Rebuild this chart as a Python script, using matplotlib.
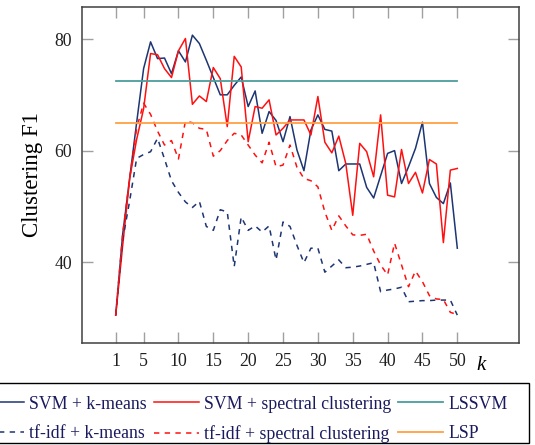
import numpy as np
import matplotlib.pyplot as plt
from matplotlib.patches import Rectangle

# k = 1..50
k = np.arange(1, 51)

svm_kmeans = [30.5, 45.0, 55.0, 65.0, 74.7, 79.5, 76.5, 76.6, 73.8, 77.9,
              75.9, 80.7, 79.2, 76.2, 73.1, 70.0, 70.0, 71.7, 73.2, 67.9,
              70.7, 63.1, 67.0, 65.4, 61.6, 66.1, 60.1, 56.4, 63.7, 66.4,
              63.8, 63.5, 56.4, 57.6, 57.6, 57.6, 53.4, 51.5, 55.5, 59.5,
              60.0, 54.1, 57.1, 60.4, 65.1, 54.1, 51.6, 50.5, 54.2, 42.5]

svm_spectral = [30.5, 43.0, 55.0, 62.0, 67.5, 77.4, 77.2, 74.7, 73.1, 77.9,
                80.1, 68.3, 69.8, 68.8, 74.9, 72.9, 64.3, 76.9, 75.0, 61.6,
                67.9, 67.6, 69.1, 62.8, 64.0, 65.5, 65.5, 65.5, 62.8, 69.7,
                61.5, 59.6, 62.6, 57.7, 48.4, 61.3, 59.8, 55.3, 66.4, 52.0,
                51.7, 60.2, 54.1, 56.1, 52.4, 58.4, 57.6, 43.5, 56.5, 56.8]

tfidf_kmeans = [30.5, 44.0, 51.0, 58.6, 59.3, 59.8, 62.2, 58.5, 54.6, 52.5,
                50.8, 49.8, 50.9, 46.4, 45.7, 49.4, 49.0, 39.2, 48.1, 45.7,
                46.5, 45.4, 46.5, 40.4, 47.2, 46.4, 43.0, 39.9, 42.5, 42.5,
                38.2, 39.3, 40.4, 39.0, 39.1, 39.3, 39.6, 39.9, 34.7, 35.0,
                35.2, 35.5, 32.9, 33.0, 33.1, 33.1, 33.2, 33.2, 33.2, 30.5]

tfidf_spectral = [30.5, 45.0, 55.0, 64.0, 68.5, 66.5, 63.5, 61.0, 61.8, 58.5,
                  65.3, 65.0, 64.0, 63.8, 59.0, 60.0, 61.8, 63.1, 62.8, 61.0,
                  59.2, 57.8, 61.5, 57.1, 57.4, 61.0, 57.0, 55.0, 54.6, 53.5,
                  49.0, 45.7, 48.3, 46.5, 44.9, 44.8, 45.0, 42.0, 39.5, 37.7,
                  43.4, 39.5, 35.6, 38.4, 36.5, 34.0, 33.4, 33.3, 31.0, 30.6]

lssvm = 72.4
lsp = 65.0

navy = '#1d3573'
red = '#ff1010'
teal = '#4b9e9c'
orange = '#ffa045'
text_col = '#1a1a5e'

plt.rcParams['font.family'] = ['Liberation Serif', 'DejaVu Serif']
plt.rcParams['font.size'] = 12.8

fig = plt.figure(figsize=(5.35, 4.45), dpi=100)
ax = fig.add_axes([0.1527, 0.2292, 0.8174, 0.7557])

h1, = ax.plot(k, svm_kmeans, color=navy, lw=1.1)
h2, = ax.plot(k, svm_spectral, color=red, lw=1.1)
h3, = ax.plot([k[0], k[-1]], [lssvm, lssvm], color=teal, lw=1.3)
h4, = ax.plot(k, tfidf_kmeans, color=navy, lw=1.1, dashes=(3.5, 3.5))
h5, = ax.plot(k, tfidf_spectral, color=red, lw=1.1, dashes=(3.5, 3.5))
h6, = ax.plot([k[0], k[-1]], [lsp, lsp], color=orange, lw=1.3)

ax.set_xlim(-3.88, 58.85)
ax.set_ylim(25.5, 85.8)
ax.set_xticks([1, 5, 10, 15, 20, 25, 30, 35, 40, 45, 50])
ax.set_yticks([40, 60, 80])
ax.tick_params(direction='in', length=8, width=1, color='#a0a0a0',
               top=True, right=True, pad=7, labelcolor='#202020')
for s in ax.spines.values():
    s.set_color('#404040')
    s.set_linewidth(1.1)

ax.set_ylabel('Clustering F1', fontsize=16.5, labelpad=8)
fig.text(481 / 535, 1 - 365 / 445, 'k', style='italic', fontsize=15,
         ha='center', va='center')

# legend is filled column by column
handles = [h1, h4, h2, h5, h3, h6]
labels = ['SVM + k-means', 'tf-idf + k-means',
          'SVM + spectral clustering', 'tf-idf + spectral clustering',
          'LSSVM', 'LSP']
leg = fig.legend(handles, labels, ncol=3, loc='upper right',
                 bbox_to_anchor=(518 / 535, 1 - 385 / 445), borderaxespad=0,
                 frameon=False, handlelength=2.5, handletextpad=0.3,
                 columnspacing=0.4, labelspacing=0.7, borderpad=0.6,
                 fontsize=12.8)
for t in leg.get_texts():
    t.set_color(text_col)

# legend frame, wider than the entries and cut at the left edge
fig.patches.append(Rectangle((-5 / 535, 1 - 443 / 445), 534 / 535, 60 / 445,
                             transform=fig.transFigure, fill=False,
                             edgecolor='black', lw=1.0))

fig.savefig('out.png', dpi=100)
